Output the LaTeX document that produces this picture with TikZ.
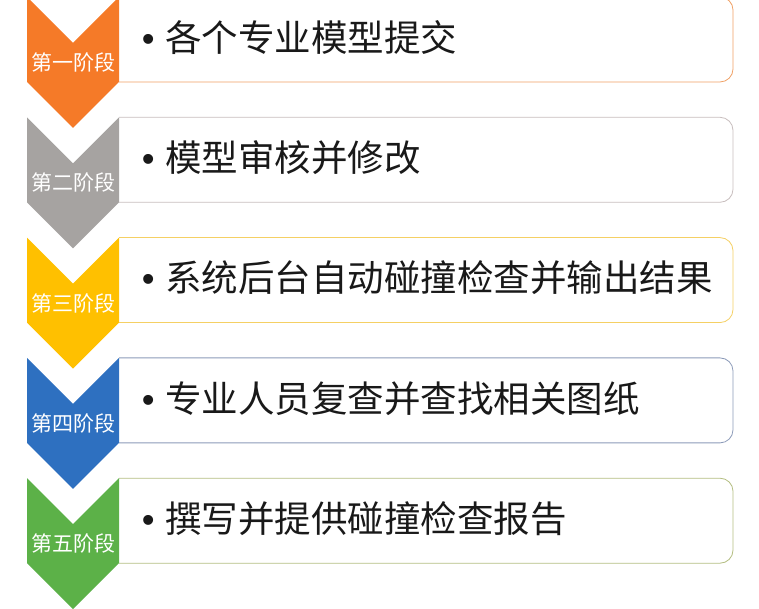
\documentclass[tikz,border=0pt]{standalone}
\usepackage{fontspec}
\newfontfamily\cjk{Noto Sans CJK SC}
\newfontfamily\dotfont{Liberation Sans}
\usepackage{xcolor}
\usepackage{tikz}
\usetikzlibrary{positioning}

\definecolor{stageA}{RGB}{245,122,40}
\definecolor{stageB}{RGB}{166,163,161}
\definecolor{stageC}{RGB}{255,192,0}
\definecolor{stageD}{RGB}{46,112,192}
\definecolor{stageE}{RGB}{92,177,72}
\definecolor{boxA}{RGB}{240,160,100}
\definecolor{boxB}{RGB}{200,190,190}
\definecolor{boxC}{RGB}{245,208,100}
\definecolor{boxD}{RGB}{140,155,185}
\definecolor{boxE}{RGB}{180,190,130}

\begin{document}
\begin{tikzpicture}[x=1pt, y=1pt, node distance=35.3pt,
		stepbox/.style={fill=white, minimum width=614pt, minimum height=85pt, inner sep=0pt, outer sep=0pt},
		boxline/.style={line width=0.8pt, rounded corners=13pt},
		steptext/.style={anchor=west, inner sep=0pt, font=\cjk\fontsize{36.5}{40}\selectfont, text=black!90},
		stagelabel/.style={inner sep=0pt, font=\cjk\fontsize{21}{24}\selectfont, text=white}]
		\useasboundingbox (0,0) rectangle (759,609);

		\node[stepbox] (b1) at (426,569.5) {};
		\node[stepbox, below=of b1] (b2) {};
		\node[stepbox, below=of b2] (b3) {};
		\node[stepbox, below=of b3] (b4) {};
		\node[stepbox, below=of b4] (b5) {};

		\draw[boxline, boxA] (b1.north west) -- (b1.north east) -- (b1.south east) -- (b1.south west);
		\draw[boxline, boxB] (b2.north west) -- (b2.north east) -- (b2.south east) -- (b2.south west);
		\draw[boxline, boxC] (b3.north west) -- (b3.north east) -- (b3.south east) -- (b3.south west);
		\draw[boxline, boxD] (b4.north west) -- (b4.north east) -- (b4.south east) -- (b4.south west);
		\draw[boxline, boxE] (b5.north west) -- (b5.north east) -- (b5.south east) -- (b5.south west);

		% chevrons
		\fill[stageA] (b1.north west) ++(-92,0) -- ++(46,-46) -- ++(46,46) -- ++(0,-85) -- ++(-46,-46) -- ++(-46,46) -- cycle;
		\fill[stageB] (b2.north west) ++(-92,0) -- ++(46,-46) -- ++(46,46) -- ++(0,-85) -- ++(-46,-46) -- ++(-46,46) -- cycle;
		\fill[stageC] (b3.north west) ++(-92,0) -- ++(46,-46) -- ++(46,46) -- ++(0,-85) -- ++(-46,-46) -- ++(-46,46) -- cycle;
		\fill[stageD] (b4.north west) ++(-92,0) -- ++(46,-46) -- ++(46,46) -- ++(0,-85) -- ++(-46,-46) -- ++(-46,46) -- cycle;
		\fill[stageE] (b5.north west) ++(-92,0) -- ++(46,-46) -- ++(46,46) -- ++(0,-85) -- ++(-46,-46) -- ++(-46,46) -- cycle;

		\node[stagelabel] (s1) at ([shift={(-46,-23)}]b1.west) {第一阶段};
		\node[stagelabel] (s2) at ([shift={(-46,-23)}]b2.west) {第二阶段};
		\node[stagelabel] (s3) at ([shift={(-46,-23)}]b3.west) {第三阶段};
		\node[stagelabel] (s4) at ([shift={(-46,-23)}]b4.west) {第四阶段};
		\node[stagelabel] (s5) at ([shift={(-46,-23)}]b5.west) {第五阶段};

		\node[steptext] (t1) at ([shift={(22.7,2)}]b1.west) {{\dotfont •}\hspace{10.7pt}各个专业模型提交};
		\node[steptext] (t2) at ([shift={(22.7,2)}]b2.west) {{\dotfont •}\hspace{10.7pt}模型审核并修改};
		\node[steptext] (t3) at ([shift={(22.7,2)}]b3.west) {{\dotfont •}\hspace{10.7pt}系统后台自动碰撞检查并输出结果};
		\node[steptext] (t4) at ([shift={(22.7,2)}]b4.west) {{\dotfont •}\hspace{10.7pt}专业人员复查并查找相关图纸};
		\node[steptext] (t5) at ([shift={(22.7,2)}]b5.west) {{\dotfont •}\hspace{10.7pt}撰写并提供碰撞检查报告};
	\end{tikzpicture}
\end{document}
